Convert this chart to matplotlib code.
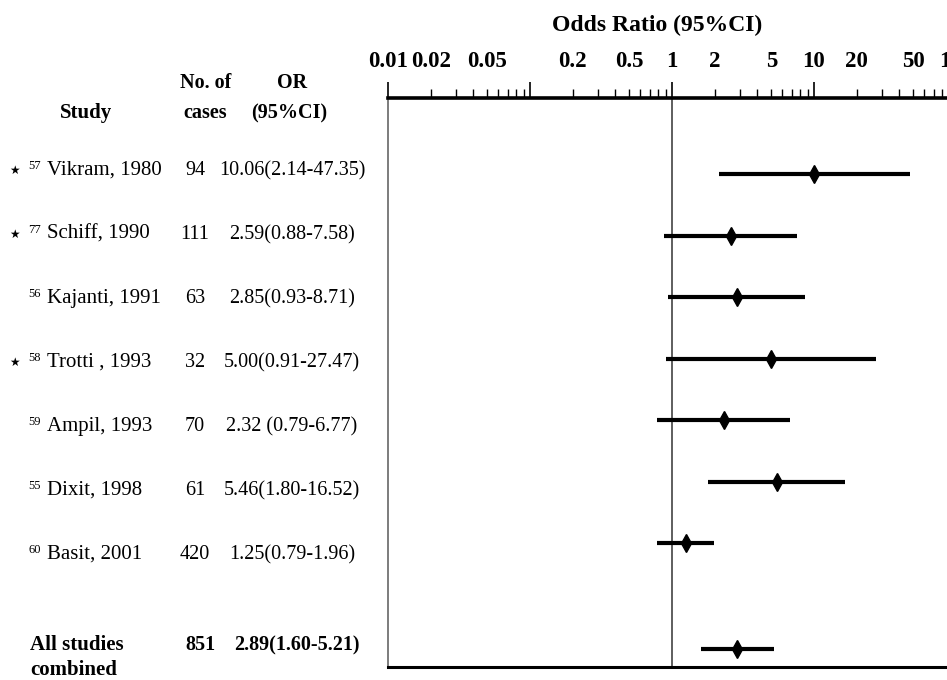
import numpy as np
import matplotlib
matplotlib.use("Agg")
import matplotlib.pyplot as plt
from matplotlib.ticker import FixedLocator, FuncFormatter

plt.rcParams['font.family'] = ['Liberation Serif', 'DejaVu Sans']

# studies in the meta-analysis
studies = ['Vikram, 1980', 'Schiff, 1990', 'Kajanti, 1991', 'Trotti , 1993',
           'Ampil, 1993', 'Dixit, 1998', 'Basit, 2001']
refs = ['57', '77', '56', '58', '59', '55', '60']
starred = [True, True, False, True, False, False, False]
cases = [94, 111, 63, 32, 70, 61, 420]
odds = [10.06, 2.59, 2.85, 5.00, 2.32, 5.46, 1.25]
ci_low = [2.14, 0.88, 0.93, 0.91, 0.79, 1.80, 0.79]
ci_high = [47.35, 7.58, 8.71, 27.47, 6.77, 16.52, 1.96]
or_gap = ['', '', '', '', ' ', '', '']

# pooled estimate
total_cases = 851
pooled_or = 2.89
pooled_low = 1.60
pooled_high = 5.21

tick_values = [0.01, 0.02, 0.05, 0.2, 0.5, 1, 2, 5, 10, 20, 50, 100]
tick_labels = ['0.01', '0.02', '0.05', '0.2', '0.5', '1', '2', '5', '10', '20', '50', '100']

W, H = 947, 680
fig = plt.figure(figsize=(W / 100, H / 100), dpi=100)


def fx(px):
    return px / W


def fy(py):
    return 1 - py / H


# forest plot panel (right edge runs just past the figure)
ax = fig.add_axes([fx(388), fy(667), (956 - 388) / W, (667 - 98) / H])
ax.set_xscale('log')
ax.set_xlim(0.01, 100)
ax.set_ylim(8.016, -1.236)

rows = np.arange(len(studies))
pooled_row = 7.72

ax.axvline(1, color='#333333', lw=1.1, zorder=1)
ax.hlines(rows, ci_low, ci_high, color='black', lw=3, zorder=2)
ax.plot(odds, rows, linestyle='none', marker='d', ms=9, color='black', zorder=3)
ax.hlines(pooled_row, pooled_low, pooled_high, color='black', lw=3, zorder=2)
ax.plot([pooled_or], [pooled_row], linestyle='none', marker='d', ms=9,
        color='black', zorder=3)

# axis styling
ax.spines['top'].set_linewidth(2.6)
ax.spines['bottom'].set_linewidth(2.2)
ax.spines['left'].set_linewidth(1.2)
ax.spines['left'].set_color('#666666')
ax.spines['right'].set_visible(False)
ax.tick_params(axis='y', left=False, labelleft=False)

label_map = dict(zip(tick_values, tick_labels))


def fmt(v, pos):
    for k, s in label_map.items():
        if abs(np.log10(v) - np.log10(k)) < 1e-6:
            return s
    return ''


ax.xaxis.tick_top()
ax.xaxis.set_major_locator(FixedLocator([0.01, 0.1, 1, 10, 100]))
ax.xaxis.set_minor_locator(FixedLocator(
    [m * 10.0 ** e for e in range(-2, 2) for m in range(2, 10)]))
ax.xaxis.set_major_formatter(FuncFormatter(fmt))
ax.xaxis.set_minor_formatter(FuncFormatter(fmt))
ax.tick_params(axis='x', which='major', direction='out', length=11.5, width=1.2,
               pad=7, labelsize=16.5)
ax.tick_params(axis='x', which='minor', direction='out', length=6.5, width=1.0,
               pad=12, labelsize=16.5)
for lab in ax.get_xticklabels(which='both'):
    lab.set_fontweight('bold')

fig.text(fx(657), fy(25), 'Odds Ratio (95%CI)', ha='center', va='center',
         fontsize=17, fontweight='bold')

# table on the left
fig.text(fx(86), fy(118), 'Study', ha='center', va='baseline', fontsize=15,
         fontweight='bold')
fig.text(fx(206), fy(88), 'No. of', ha='center', va='baseline', fontsize=14.5,
         fontweight='bold')
fig.text(fx(205), fy(118), 'cases', ha='center', va='baseline', fontsize=14.5,
         fontweight='bold')
fig.text(fx(292), fy(88), 'OR', ha='center', va='baseline', fontsize=14.5,
         fontweight='bold')
fig.text(fx(289), fy(118), '(95%CI)', ha='center', va='baseline', fontsize=14.5,
         fontweight='bold')

for i in range(len(studies)):
    base = 175 + 64 * i
    if starred[i]:
        fig.text(fx(14), fy(base - 5), '\u2605', ha='center', va='center',
                 fontsize=8.5, family='DejaVu Sans')
    fig.text(fx(28), fy(base - 6), refs[i], ha='left', va='baseline', fontsize=9)
    fig.text(fx(47), fy(base), studies[i], ha='left', va='baseline', fontsize=15)
    fig.text(fx(195), fy(base), str(cases[i]), ha='center', va='baseline',
             fontsize=14.5)
    label = f'{odds[i]:.2f}{or_gap[i]}({ci_low[i]:.2f}-{ci_high[i]:.2f})'
    fig.text(fx(292), fy(base), label, ha='center', va='baseline', fontsize=14.5)

fig.text(fx(30), fy(650), 'All studies', ha='left', va='baseline', fontsize=15,
         fontweight='bold')
fig.text(fx(30), fy(675), 'combined', ha='left', va='baseline', fontsize=15,
         fontweight='bold')
fig.text(fx(200), fy(650), str(total_cases), ha='center', va='baseline',
         fontsize=14.5, fontweight='bold')
fig.text(fx(297), fy(650), f'{pooled_or:.2f}({pooled_low:.2f}-{pooled_high:.2f})',
         ha='center', va='baseline', fontsize=14.5, fontweight='bold')

fig.savefig('out.png', dpi=100)
